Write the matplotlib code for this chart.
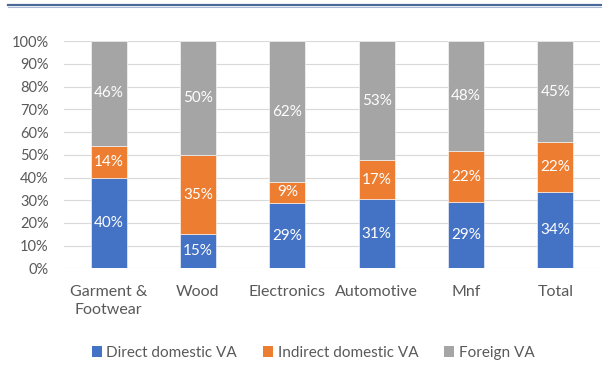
import numpy as np
import matplotlib.pyplot as plt
from matplotlib.lines import Line2D
from matplotlib.patches import Patch

plt.rcParams['font.family'] = ['Lato', 'DejaVu Sans']

categories = ['Garment &\nFootwear', 'Wood', 'Electronics', 'Automotive', 'Mnf', 'Total']
direct = [40, 15, 29, 31, 29, 34]
indirect = [14, 35, 9, 17, 22, 22]
foreign = [46, 50, 62, 53, 48, 45]

series = [('Direct domestic VA', direct, '#4472C4'),
          ('Indirect domestic VA', indirect, '#ED7D31'),
          ('Foreign VA', foreign, '#A5A5A5')]

# 100% stacked: normalise each column by its total
totals = np.array(direct) + np.array(indirect) + np.array(foreign)

fig = plt.figure(figsize=(6.02, 3.84), dpi=100)
ax = fig.add_axes([0.1063, 0.3008, 0.8904, 0.5924])

x = np.arange(len(categories))
bottom = np.zeros(len(categories))
for name, vals, color in series:
    share = np.array(vals) / totals
    ax.bar(x, share, 0.4, bottom=bottom, color=color, edgecolor='white',
           linewidth=0.4, label=name, zorder=3)
    for xi, b, s, v in zip(x, bottom, share, vals):
        ax.text(xi, b + s / 2, f'{v}%', ha='center', va='center',
                color='white', fontsize=11, zorder=4)
    bottom += share

ax.set_xlim(-0.5, len(categories) - 0.5)
ax.set_ylim(0, 1)
ax.set_yticks(np.arange(0, 1.01, 0.1))
ax.set_yticklabels([f'{int(round(t * 100))}%' for t in np.arange(0, 1.01, 0.1)])
ax.set_xticks(x)
ax.set_xticklabels(categories, linespacing=1.35)
ax.tick_params(axis='both', length=0, colors='#595959')
ax.tick_params(axis='x', pad=12, labelsize=11.5)
ax.tick_params(axis='y', pad=11, labelsize=10.5)
ax.grid(axis='y', color='#D9D9D9', linewidth=0.8, zorder=0)
for s in ax.spines.values():
    s.set_visible(False)

handles = [Patch(facecolor=c, edgecolor='none') for _, _, c in series]
fig.legend(handles, [n for n, _, _ in series], loc='center',
           bbox_to_anchor=(0.52, 0.081), ncol=3, frameon=False,
           handlelength=0.66, handleheight=0.66, handletextpad=0.3,
           columnspacing=1.7, fontsize=11, labelcolor='#595959')

# rule across the top of the figure
fig.add_artist(Line2D([0.014, 1.0], [1 - 5 / 384, 1 - 5 / 384],
                      color='#4A6898', linewidth=1.6, transform=fig.transFigure))
fig.add_artist(Line2D([0.014, 1.0], [1 - 7.3 / 384, 1 - 7.3 / 384],
                      color='#A9BBD6', linewidth=0.8, transform=fig.transFigure))

fig.savefig('out.png', dpi=100)
